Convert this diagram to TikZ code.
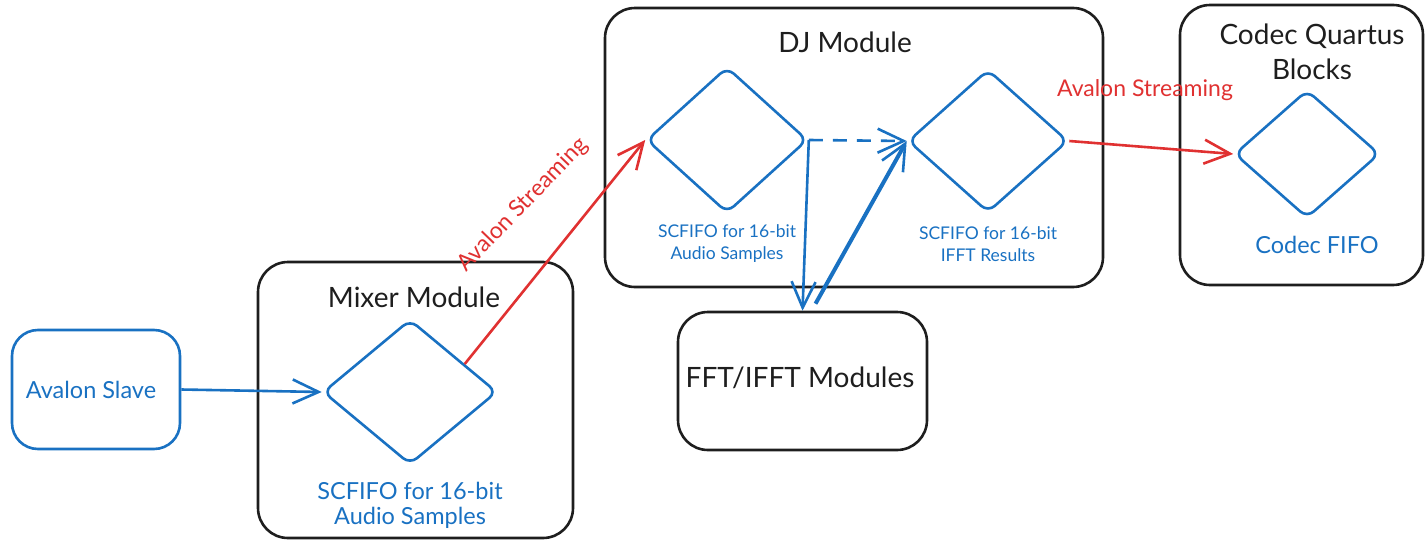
\documentclass[tikz,border=0pt]{standalone}
\usepackage{fontspec}
\setmainfont{Lato}
\usetikzlibrary{shapes.geometric,arrows.meta,calc}
\definecolor{exblue}{HTML}{1971C2}
\definecolor{exred}{HTML}{E03131}
\definecolor{exblack}{HTML}{1E1E1E}
\tikzset{
  container/.style={draw=exblack, line width=2.6pt, rounded corners=30pt, minimum width=#1},
  bluebox/.style={draw=exblue, line width=2.6pt, rounded corners=26pt},
  fifo/.style={draw=exblue, line width=2.6pt, shape=diamond, inner sep=0pt, rounded corners=9pt},
  title/.style={text=exblack, font=\fontsize{28}{35}\selectfont, align=center},
  bluelabel/.style={text=exblue, font=\fontsize{23.5}{25}\selectfont, align=center},
  smalllabel/.style={text=exblue, font=\fontsize{17.5}{22}\selectfont, align=center},
  redlabel/.style={text=exred, font=\fontsize{23}{24}\selectfont},
  barb/.style={-{Straight Barb[length=26pt,width=24pt,line width=2.6pt]}},
  bluearrow/.style={barb, draw=exblue, line width=2.6pt},
  redarrow/.style={barb, draw=exred, line width=2.6pt},
}
\begin{document}
\begin{tikzpicture}[x=1pt,y=-1pt]
\useasboundingbox (0,0) rectangle (1426,541);
% containers
\node[container=315pt, minimum height=276pt] (mixer) at (415.5,400) {};
\node[container=498pt, minimum height=279pt] (dj) at (854,147.5) {};
\node[container=243pt, minimum height=280pt] (codec) at (1301.5,145) {};
\node[container=249pt, minimum height=138pt] (fft) at (802.5,381) {};
\node[bluebox, minimum width=168pt, minimum height=119pt] (slave) at (96,389.5) {};
% titles
\node[title] (mixert) at (414,297) {Mixer Module};
\node[title] (djt) at (845,42) {DJ Module};
\node[title] (codect) at (1312,52) {Codec Quartus\\Blocks};
\node[title] (fftt) at (800,378) {FFT/IFFT Modules};
\node[bluelabel] (slavet) at (91,390) {Avalon Slave};
% diamonds
\node[fifo, minimum width=174pt, minimum height=145pt] (md) at (410,392) {};
\node[fifo, minimum width=161pt, minimum height=146pt] (d1) at (727,140) {};
\node[fifo, minimum width=160pt, minimum height=143pt] (d2) at (988,141) {};
\node[fifo, minimum width=145pt, minimum height=128pt] (cd) at (1307,154) {};
% diamond labels
\node[bluelabel] (mdl) at (410,505) {SCFIFO for 16-bit\\Audio Samples};
\node[smalllabel] (d1l) at (727,244) {SCFIFO for 16-bit\\Audio Samples};
\node[smalllabel] (d2l) at (988,244) {SCFIFO for 16-bit\\IFFT Results};
\node[bluelabel] (cdl) at (1317,245) {Codec FIFO};
% connectors
\coordinate (mdout) at ($(md.north)!0.62!(md.east)$);
\draw[bluearrow] (slave.east) -- (md.west);
\draw[redarrow] (mdout) -- (d1.west);
\draw[bluearrow, dashed, dash pattern=on 14pt off 10pt] (d1.east) -- (d2.west);
\draw[bluearrow] (d1.east) -- (fft.north);
\coordinate (fftout) at ($(fft.north)+(13,-7)$);
\draw[bluearrow, line width=4pt] (fftout) -- (d2.west);
\draw[redarrow] (d2.east) -- (cd.west);
% red labels
\node[redlabel, rotate=46] (rl1) at (523,205) {Avalon Streaming};
\node[redlabel] (rl2) at (1145,90) {Avalon Streaming};
\end{tikzpicture}
\end{document}
